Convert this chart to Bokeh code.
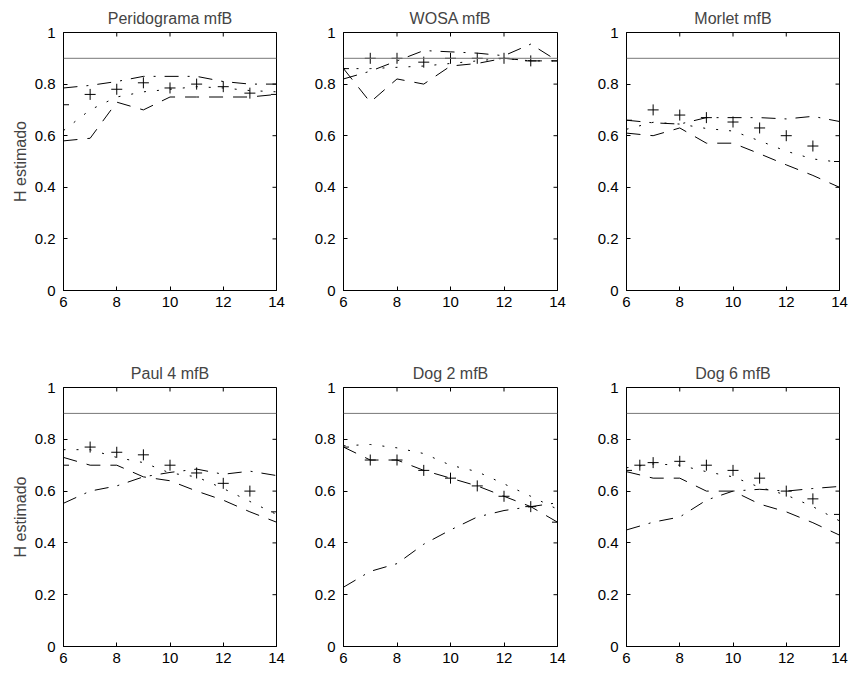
import math
from bokeh.plotting import figure
from bokeh.layouts import column, row
from bokeh.models import FixedTicker, Span, Range1d
from bokeh.embed import file_html
from bokeh.resources import INLINE

# ---------------- data ----------------
X = [6, 7, 8, 9, 10, 11, 12, 13, 14]
X_TICKS = [6, 8, 10, 12, 14]
X_TICK_LABELS = ["6", "8", "10", "12", "14"]
Y_TICKS = [0, 0.2, 0.4, 0.6, 0.8, 1]
Y_TICK_LABELS = ["0", "0.2", "0.4", "0.6", "0.8", "1"]
H_TRUE = 0.9
Y_LABEL = "H estimado"

TITLES = ["Peridograma mfB", "WOSA mfB", "Morlet mfB",
          "Paul 4 mfB", "Dog 2 mfB", "Dog 6 mfB"]

# Peridograma mfB
per_dashed = [0.58, 0.59, 0.73, 0.70, 0.75, 0.75, 0.75, 0.75, 0.76]
per_dotted = [0.62, 0.70, 0.75, 0.77, 0.78, 0.79, 0.785, 0.775, 0.77]
per_dashdot = [0.785, 0.795, 0.81, 0.83, 0.83, 0.83, 0.81, 0.80, 0.80]
per_plus_x = [6, 7, 8, 9, 10, 11, 12, 13, 14]
per_plus = [0.72, 0.76, 0.78, 0.805, 0.785, 0.80, 0.79, 0.765, 0.76]

# WOSA mfB
wosa_dashed = [0.86, 0.73, 0.82, 0.80, 0.87, 0.88, 0.90, 0.89, 0.89]
wosa_dotted = [0.86, 0.86, 0.865, 0.87, 0.88, 0.89, 0.90, 0.89, 0.89]
wosa_dashdot = [0.82, 0.85, 0.89, 0.93, 0.925, 0.92, 0.91, 0.955, 0.89]
wosa_plus_x = [6, 7, 8, 9, 10, 11, 12, 13, 14]
wosa_plus = [0.86, 0.90, 0.90, 0.885, 0.90, 0.90, 0.90, 0.89, 0.89]

# Morlet mfB
mor_dashed = [0.61, 0.60, 0.63, 0.571, 0.571, 0.53, 0.487, 0.446, 0.40]
mor_dotted = [0.625, 0.652, 0.645, 0.628, 0.618, 0.58, 0.54, 0.51, 0.497]
mor_dashdot = [0.66, 0.65, 0.645, 0.67, 0.67, 0.67, 0.665, 0.675, 0.655]
mor_plus_x = [6, 7, 8, 9, 10, 11, 12, 13, 14]
mor_plus = [0.66, 0.70, 0.68, 0.67, 0.653, 0.63, 0.60, 0.56, 0.50]

# Paul 4 mfB
paul_dashed = [0.73, 0.70, 0.70, 0.655, 0.64, 0.60, 0.565, 0.52, 0.48]
paul_dotted = [0.76, 0.76, 0.73, 0.71, 0.67, 0.655, 0.61, 0.56, 0.51]
paul_dashdot = [0.553, 0.60, 0.62, 0.655, 0.672, 0.685, 0.665, 0.677, 0.66]
paul_plus_x = [6, 7, 8, 9, 10, 11, 12, 13, 14]
paul_plus = [0.70, 0.77, 0.75, 0.74, 0.70, 0.67, 0.63, 0.60, 0.52]

# Dog 2 mfB
dog2_dashed = [0.77, 0.72, 0.72, 0.68, 0.65, 0.62, 0.58, 0.54, 0.48]
dog2_dotted = [0.775, 0.78, 0.767, 0.745, 0.70, 0.675, 0.628, 0.58, 0.53]
dog2_dashdot = [0.229, 0.29, 0.32, 0.395, 0.45, 0.50, 0.525, 0.54, 0.555]
dog2_plus_x = [6, 7, 8, 9, 10, 11, 12, 13, 14]
dog2_plus = [0.77, 0.72, 0.72, 0.68, 0.65, 0.62, 0.58, 0.54, 0.48]

# Dog 6 mfB
dog6_dashed = [0.675, 0.65, 0.65, 0.60, 0.60, 0.55, 0.52, 0.478, 0.43]
dog6_dotted = [0.69, 0.705, 0.70, 0.675, 0.655, 0.615, 0.585, 0.54, 0.485]
dog6_dashdot = [0.45, 0.48, 0.50, 0.565, 0.60, 0.607, 0.60, 0.61, 0.618]
dog6_plus_x = [6, 6.5, 7, 8, 9, 10, 11, 12, 13, 14]
dog6_plus = [0.68, 0.70, 0.71, 0.715, 0.70, 0.68, 0.65, 0.60, 0.57, 0.51]

PANELS = [
    (per_dashed, per_dotted, per_dashdot, per_plus_x, per_plus),
    (wosa_dashed, wosa_dotted, wosa_dashdot, wosa_plus_x, wosa_plus),
    (mor_dashed, mor_dotted, mor_dashdot, mor_plus_x, mor_plus),
    (paul_dashed, paul_dotted, paul_dashdot, paul_plus_x, paul_plus),
    (dog2_dashed, dog2_dotted, dog2_dashdot, dog2_plus_x, dog2_plus),
    (dog6_dashed, dog6_dotted, dog6_dashdot, dog6_plus_x, dog6_plus),
]

# ---------------- layout ----------------
FONT = "Liberation Sans"
TICK_FS = "15px"
TITLE_FS = "16px"
COL_BORDERS = [(63, 10, 213), (57, 10, 214), (59, 9, 213)]   # left, right, frame width
ROW_BORDERS = [(32, 65, 258), (32, 28, 259)]                 # top, bottom, frame height


def make_panel(idx):
    r, c = divmod(idx, 3)
    lb, rb, fw = COL_BORDERS[c]
    tb, bb, fh = ROW_BORDERS[r]
    dashed, dotted, dashdot, px, py = PANELS[idx]
    p = figure(width=lb + fw + rb, height=tb + fh + bb,
               x_range=Range1d(6, 14), y_range=Range1d(0, 1),
               output_backend="svg", toolbar_location=None,
               min_border_left=lb, min_border_right=rb,
               min_border_top=tb, min_border_bottom=bb,
               title=TITLES[idx])
    p.title.text_font = FONT
    p.title.text_font_size = TITLE_FS
    p.title.text_font_style = "normal"
    p.title.align = "center"
    p.title.standoff = 12
    p.grid.visible = False
    p.outline_line_color = "black"
    p.outline_line_width = 1
    p.background_fill_color = "white"
    p.border_fill_color = "white"

    for ax, ticks, labels in ((p.xaxis[0], X_TICKS, X_TICK_LABELS),
                              (p.yaxis[0], Y_TICKS, Y_TICK_LABELS)):
        ax.ticker = FixedTicker(ticks=ticks)
        ax.major_label_overrides = dict(zip(ticks, labels))
        ax.major_tick_in = 4
        ax.major_tick_out = 0
        ax.minor_tick_line_color = None
        ax.axis_line_color = "black"
        ax.major_tick_line_color = "black"
        ax.major_label_text_font = FONT
        ax.major_label_text_font_size = TICK_FS
        ax.major_label_text_color = "black"
    p.xaxis.major_label_standoff = 6
    p.yaxis.major_label_standoff = 8
    if c == 0:
        p.yaxis.axis_label = Y_LABEL
        p.yaxis.axis_label_text_font = FONT
        p.yaxis.axis_label_text_font_size = TITLE_FS
        p.yaxis.axis_label_text_font_style = "normal"
        p.yaxis.axis_label_standoff = 3

    # mirrored inward tick marks on top and right edges
    p.ray(x=X_TICKS, y=[p.y_range.end] * len(X_TICKS), length=4, length_units="screen",
          angle=-math.pi / 2, line_color="black", line_width=1)
    p.ray(x=[p.x_range.end] * len(Y_TICKS), y=Y_TICKS, length=4, length_units="screen",
          angle=math.pi, line_color="black", line_width=1)

    p.add_layout(Span(location=H_TRUE, dimension="width", line_color="#777777", line_width=1))

    p.line(X, dashed, line_color="black", line_width=1, line_dash="14 10")
    p.line(X, dotted, line_color="black", line_width=1, line_dash="2 11")
    p.line(X, dashdot, line_color="black", line_width=1, line_dash="14 9 2 9")
    p.scatter(px, py, marker="cross", size=11, line_color="black", line_width=1)
    return p


figs = [make_panel(i) for i in range(6)]
layout = column(row(*figs[:3]), row(*figs[3:]))

open("out.html", "w").write(file_html(layout, INLINE))
